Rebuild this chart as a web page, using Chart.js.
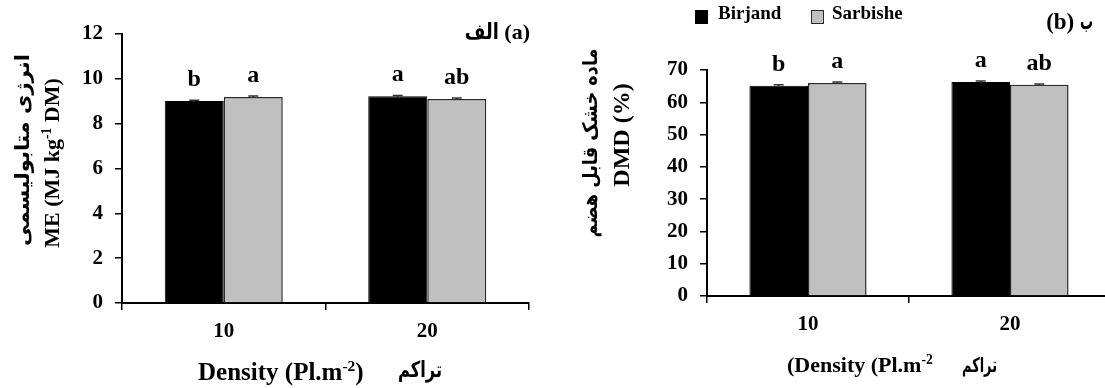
<!DOCTYPE html>
<html><head><meta charset="utf-8">
<script src="https://cdn.jsdelivr.net/npm/chart.js@4.4.1/dist/chart.umd.min.js"></script>
<style>
html,body{margin:0;padding:0;background:#fff;overflow:hidden;width:1105px;height:388px;position:relative;}
#ca{position:absolute;left:0;top:0;}
#cb{position:absolute;left:555px;top:0;}
</style></head><body>
<canvas id="ca" width="555" height="388"></canvas>
<canvas id="cb" width="560" height="388"></canvas>
<script>
// ---- data ----
const categories = ['10', '20'];
const seriesNames = ['Birjand', 'Sarbishe'];

const meBirjand = [9.01, 9.22];
const meSarbishe = [9.19, 9.10];
const meErrBirjand = [0.04, 0.04];
const meErrSarbishe = [0.04, 0.04];
const meLettersBirjand = ['b', 'a'];
const meLettersSarbishe = ['a', 'ab'];
const meTicks = [0, 2, 4, 6, 8, 10, 12];

const dmdBirjand = [65.1, 66.3];
const dmdSarbishe = [66.0, 65.4];
const dmdErrBirjand = [0.3, 0.3];
const dmdErrSarbishe = [0.3, 0.3];
const dmdLettersBirjand = ['b', 'a'];
const dmdLettersSarbishe = ['a', 'ab'];
const dmdTicks = [0, 10, 20, 30, 40, 50, 60, 70];

const FONT = '"Liberation Serif", "Times New Roman", serif';
const FA = '"DejaVu Sans", "Noto Sans", sans-serif';
const BLACK = '#000000', GRAY = '#c0c0c0', GRAYBORDER = '#2a2a2a';

function drawRich(ctx, parts, x, y, size, align) {
  const sub = size * 0.62;
  let total = 0;
  const info = parts.map(p => {
    ctx.font = 'bold ' + (p.sup ? sub : size) + 'px ' + (p.fa ? FA : FONT);
    const m = ctx.measureText(p.t).width;
    const w = p.w ? p.w : m;
    total += w; return { w, sx: w / m };
  });
  let cx = align === 'center' ? x - total / 2 : (align === 'right' ? x - total : x);
  ctx.textAlign = 'left'; ctx.textBaseline = 'alphabetic';
  parts.forEach((p, i) => {
    ctx.font = 'bold ' + (p.sup ? sub : size) + 'px ' + (p.fa ? FA : FONT);
    ctx.save();
    ctx.translate(cx, p.sup ? y - size * 0.38 : y);
    ctx.scale(info[i].sx, 1);
    ctx.fillText(p.t, 0, 0);
    ctx.restore();
    cx += info[i].w;
  });
}

function makeAnnot(o) {
  return {
    id: 'annot',
    afterDatasetsDraw(chart) {
      const ctx = chart.ctx, ys = chart.scales.y, ca = chart.chartArea;
      ctx.save();
      ctx.direction = 'ltr';
      chart.data.datasets.forEach((ds, di) => {
        const meta = chart.getDatasetMeta(di);
        meta.data.forEach((bar, i) => {
          const v = ds.data[i], e = o.errs[di][i];
          const yt = ys.getPixelForValue(v + e), yb = ys.getPixelForValue(v - e);
          ctx.strokeStyle = '#333'; ctx.lineWidth = 1.5;
          ctx.beginPath();
          ctx.moveTo(bar.x, yb); ctx.lineTo(bar.x, yt);
          ctx.moveTo(bar.x - 5, yt); ctx.lineTo(bar.x + 5, yt);
          ctx.stroke();
          ctx.fillStyle = '#000';
          ctx.font = 'bold 24px ' + FONT;
          ctx.textAlign = 'center'; ctx.textBaseline = 'alphabetic';
          ctx.fillText(o.letters[di][i], bar.x, ys.getPixelForValue(v) - 15);
        });
      });
      ctx.fillStyle = '#000';
      drawRich(ctx, o.title, ca.right + o.titleDx, ca.top + o.titleDy, o.titleSize, 'right');
      o.yTitles.forEach(t => {
        ctx.save();
        ctx.translate(t.x, t.y);
        ctx.rotate(-Math.PI / 2);
        drawRich(ctx, t.parts, 0, t.size * 0.33, t.size, 'center');
        ctx.restore();
      });
      o.xTitles.forEach(t => drawRich(ctx, t.parts, t.x, t.y, t.size, 'left'));
      if (o.legend) {
        chart.data.datasets.forEach((ds, di) => {
          const L = o.legend[di];
          ctx.fillStyle = ds.backgroundColor;
          ctx.fillRect(L.x, 10, 13, 14);
          ctx.strokeStyle = ds.borderColor; ctx.lineWidth = 1;
          ctx.strokeRect(L.x + 0.5, 10.5, 12, 13);
          ctx.fillStyle = '#000';
          ctx.font = 'bold 19px ' + FONT;
          ctx.textAlign = 'left'; ctx.textBaseline = 'alphabetic';
          ctx.fillText(ds.label, L.tx, 19);
        });
      }
      ctx.restore();
    }
  };
}

function makeChart(id, o) {
  return new Chart(document.getElementById(id), {
    type: 'bar',
    data: {
      labels: categories,
      datasets: [
        { label: seriesNames[0], data: o.b, backgroundColor: BLACK, borderColor: BLACK, borderWidth: 1 },
        { label: seriesNames[1], data: o.s, backgroundColor: GRAY, borderColor: GRAYBORDER, borderWidth: 1.5 }
      ]
    },
    options: {
      responsive: false, animation: false, devicePixelRatio: 1,
      layout: { padding: { left: 0, right: o.padRight, top: o.top, bottom: 0 } },
      plugins: { legend: { display: false }, tooltip: { enabled: false } },
      datasets: { bar: { categoryPercentage: 0.58, barPercentage: 1 } },
      scales: {
        x: {
          grid: { display: true, offset: true, drawOnChartArea: false, drawTicks: true, tickLength: 7, color: '#000', lineWidth: 1.5 },
          border: { display: true, color: '#000', width: 2 },
          ticks: { color: '#000', font: { family: FONT, weight: 'bold', size: 21 }, padding: 9, maxRotation: 0 },
          afterFit(s) { s.height = o.xH; }
        },
        y: {
          min: o.ticks[0], max: o.ticks[o.ticks.length - 1],
          afterBuildTicks(s) { s.ticks = o.ticks.map(v => ({ value: v })); },
          grid: { drawOnChartArea: false, drawTicks: true, tickLength: 7, color: '#000', lineWidth: 1.5 },
          border: { display: true, color: '#000', width: 2 },
          ticks: { color: '#000', font: { family: FONT, weight: 'bold', size: 21 }, padding: 12 },
          afterFit(s) { s.width = o.yW; }
        }
      }
    },
    plugins: [makeAnnot(o)]
  });
}

makeChart('ca', {
  b: meBirjand, s: meSarbishe, errs: [meErrBirjand, meErrSarbishe],
  letters: [meLettersBirjand, meLettersSarbishe], ticks: meTicks,
  top: 34, xH: 85, yW: 122, padRight: 26,
  title: [{ t: 'الف', fa: true, w: 34 }, { t: ' (a)' }], titleSize: 22, titleDx: 1, titleDy: 5,
  yTitles: [
    { x: 22, y: 150, size: 20, parts: [{ t: 'انرژی متابولیسمی', fa: true, w: 192 }] },
    { x: 52, y: 163, size: 22, parts: [{ t: 'ME (MJ kg' }, { t: '-1', sup: true }, { t: ' DM)' }] }
  ],
  xTitles: [
    { x: 198, y: 380, size: 25, parts: [{ t: 'Density (Pl.m' }, { t: '-2', sup: true }, { t: ')' }] },
    { x: 398, y: 377, size: 22, parts: [{ t: 'تراکم', fa: true, w: 44 }] }
  ]
});

makeChart('cb', {
  b: dmdBirjand, s: dmdSarbishe, errs: [dmdErrBirjand, dmdErrSarbishe],
  letters: [dmdLettersBirjand, dmdLettersSarbishe], ticks: dmdTicks,
  top: 70, xH: 92, yW: 152, padRight: 4,
  title: [{ t: '(b) ' }, { t: 'ب', fa: true, w: 13 }], titleSize: 23, titleDx: -18, titleDy: -41,
  yTitles: [
    { x: 35, y: 143, size: 20, parts: [{ t: 'ماده خشک قابل هضم', fa: true, w: 189 }] },
    { x: 66, y: 135, size: 24, parts: [{ t: 'DMD (%)' }] }
  ],
  xTitles: [
    { x: 232, y: 372, size: 22, parts: [{ t: '(Density (Pl.m' }, { t: '-2', sup: true }] },
    { x: 407, y: 372, size: 20, parts: [{ t: 'تراکم', fa: true, w: 35 }] }
  ],
  legend: [{ x: 140, tx: 163 }, { x: 256, tx: 277 }]
});
</script>
</body></html>
